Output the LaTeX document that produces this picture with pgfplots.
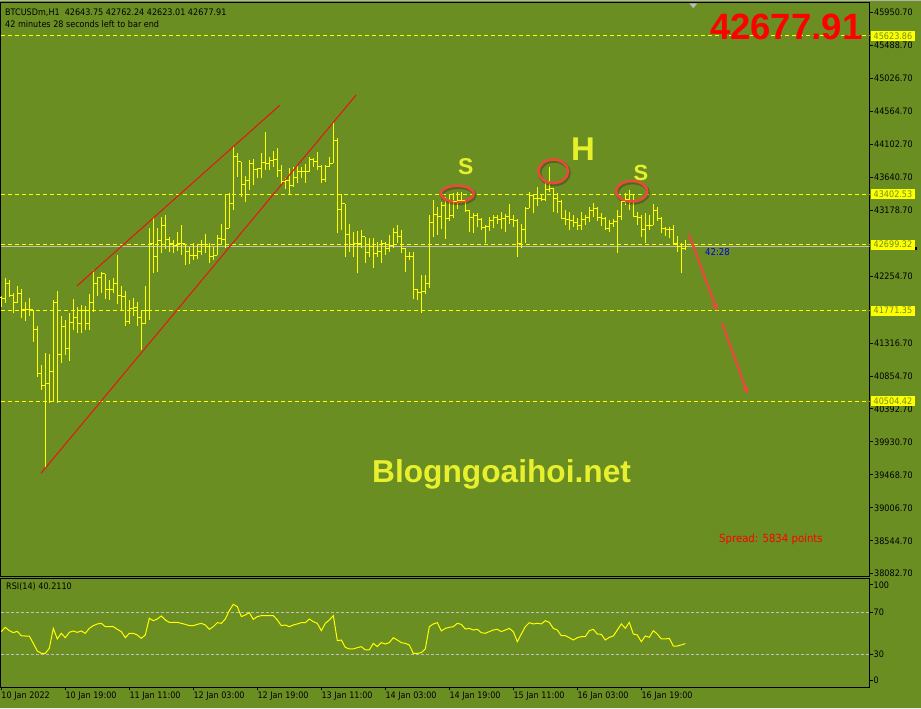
\documentclass[border=0pt]{standalone}
\usepackage{fontspec}
\setmainfont{DejaVu Sans}[FakeStretch=0.9]
\newfontfamily\arialfont{Liberation Sans}
\usepackage{pgfplots}
\usepackage{pgfplotstable}
\pgfplotsset{compat=1.18}
\usetikzlibrary{arrows.meta}

\definecolor{mtbg}{RGB}{107,142,35}
\definecolor{baryel}{RGB}{255,255,0}
\definecolor{silv}{RGB}{192,192,192}
\definecolor{trend}{RGB}{230,20,20}
\definecolor{circred}{RGB}{238,72,60}
\definecolor{wmark}{RGB}{232,240,45}

% open / close ticks of an OHLC bar
\pgfdeclareplotmark{otick}{\pgfpathmoveto{\pgfqpoint{-2bp}{0bp}}\pgfpathlineto{\pgfqpoint{0bp}{0bp}}\pgfusepathqstroke}
\pgfdeclareplotmark{ctick}{\pgfpathmoveto{\pgfqpoint{0bp}{0bp}}\pgfpathlineto{\pgfqpoint{2bp}{0bp}}\pgfusepathqstroke}

% BTCUSD H1 bars, 10 Jan 03:00 onwards; R = RSI(14)
\pgfplotstableread{
i O H L C R
0 41959 41977 41819 41945 51.6
1 41945 42225 41884 42155 55.7
2 42155 42202 41968 41991 52.5
3 41991 42015 41734 41889 50.6
4 41889 42118 41875 42015 51.9
5 42015 42076 41673 41781 47.7
6 41781 41898 41631 41781 47.4
7 41781 41945 41702 41781 47.4
8 41781 41781 41337 41510 40.4
9 41510 41557 40846 40893 33.1
10 40893 41010 40659 40729 30.9
11 40729 41173 39560 40753 30.9
12 40753 41164 40481 40916 35.7
13 40916 41921 40495 41884 54.7
14 41884 42048 40472 41150 44.6
15 41150 41697 41042 41547 50.0
16 41547 41641 41150 41243 45.8
17 41243 41734 41071 41603 50.9
18 41603 41931 41501 41678 52.2
19 41678 41828 41454 41594 50.9
20 41594 41851 41454 41772 52.2
21 41772 41837 41501 41585 50.0
22 41585 42006 41501 41889 54.7
23 41889 42342 41748 42155 57.3
24 42155 42249 41982 42239 58.9
25 42239 42319 42015 42286 59.5
26 42286 42286 41935 42071 56.3
27 42071 42202 41921 42062 56.3
28 42062 42225 42024 42146 56.3
29 42146 42552 41865 41991 53.8
30 41991 42118 41781 41977 51.6
31 41977 42048 41561 41617 45.8
32 41617 41921 41580 41795 50.0
33 41795 41945 41697 41819 50.0
34 41819 41889 41557 41678 48.4
35 41678 41781 41220 41585 45.2
36 41585 42118 41585 41772 48.4
37 41772 42936 41641 42707 64.3
38 42707 43090 42305 42538 62.0
39 42538 42926 42319 42753 63.6
40 42753 43081 42576 42973 66.5
41 42973 43114 42632 42772 62.7
42 42772 42810 42599 42707 60.4
43 42707 42763 42576 42679 60.4
44 42679 42870 42609 42707 60.4
45 42707 42973 42552 42707 59.5
46 42707 42707 42412 42599 58.5
47 42599 42669 42421 42552 57.3
48 42552 42716 42482 42552 57.3
49 42552 42702 42496 42599 58.5
50 42599 42763 42552 42693 59.5
51 42693 42842 42576 42669 57.9
52 42669 42716 42436 42529 53.8
53 42529 42669 42482 42552 56.3
54 42552 42833 42552 42786 60.1
55 42786 42982 42702 42772 59.5
56 42772 43403 42655 42926 63.6
57 42926 43417 42926 43277 71.6
58 43277 44072 43184 43932 77.6
59 43932 43978 43651 43861 75.4
60 43861 43861 43371 43544 65.9
61 43544 43660 43301 43604 67.4
62 43604 43885 43464 43838 69.7
63 43838 43894 43534 43745 63.3
64 43745 43768 43628 43759 65.9
65 43759 43978 43628 43847 66.8
66 43847 44273 43745 43838 66.8
67 43838 43932 43745 43875 66.8
68 43875 44016 43791 43885 66.8
69 43885 44048 43651 43731 62.7
70 43731 43815 43534 43581 57.3
71 43581 43637 43473 43604 57.9
72 43604 43768 43403 43520 56.3
73 43520 43782 43511 43637 57.9
74 43637 43815 43558 43721 58.9
75 43721 43791 43628 43721 60.1
76 43721 43829 43567 43721 60.1
77 43721 43922 43721 43894 63.6
78 43894 43908 43791 43861 61.1
79 43861 44002 43745 43791 59.5
80 43791 43815 43558 43614 52.5
81 43614 43815 43581 43791 59.5
82 43791 43932 43791 43838 62.7
83 43838 44422 43838 44165 66.8
84 44165 44189 42856 43193 43.0
85 43193 43403 42903 43268 43.6
86 43268 43268 42529 42833 36.6
87 42833 42987 42599 42693 35.1
88 42693 42870 42520 42707 35.1
89 42707 42889 42295 42707 36.3
90 42707 42903 42646 42810 37.3
91 42810 42810 42436 42585 34.1
92 42585 42786 42529 42669 34.1
93 42669 42796 42365 42576 40.4
94 42576 42739 42529 42599 37.3
95 42599 42763 42436 42716 41.1
96 42716 42739 42552 42646 39.8
97 42646 42833 42599 42679 41.1
98 42679 42926 42646 42866 45.8
99 42866 42973 42725 42810 43.6
100 42810 42903 42576 42637 41.1
101 42637 42655 42319 42529 40.4
102 42529 42599 42482 42538 38.9
103 42538 42599 41931 42062 30.9
104 42062 42076 41921 42024 30.9
105 42024 42270 41744 42038 31.6
106 42038 42270 42008 42155 35.1
107 42155 43114 42085 43006 56.3
108 43006 43330 42810 43114 58.9
109 43114 43220 42833 43090 60.1
110 43090 43300 42910 43240 52.2
111 43240 43371 42775 43067 54.7
112 43067 43403 43034 43113 55.7
113 43113 43417 43067 43300 56.3
114 43300 43441 43193 43314 59.5
115 43314 43441 43277 43310 58.5
116 43310 43324 43160 43183 54.1
117 43183 43183 42880 43081 54.7
118 43081 43146 42866 43113 53.1
119 43113 43137 42950 43053 53.8
120 43053 43067 42903 42936 50.6
121 42936 42973 42716 42950 50.0
122 42950 43081 42894 43034 51.6
123 43034 43113 42926 43081 53.1
124 43081 43113 42987 43053 53.8
125 43053 43160 42912 43067 51.6
126 43067 43127 42880 43090 53.1
127 43090 43268 42987 43053 54.7
128 43053 43113 42950 43043 51.6
129 43043 43053 42529 42716 42.0
130 42716 42982 42646 42912 49.3
131 42912 43230 42725 43207 56.3
132 43207 43441 43207 43380 60.1
133 43380 43394 43137 43347 58.9
134 43347 43511 43240 43347 59.5
135 43347 43394 43314 43324 58.9
136 43324 43557 43314 43464 62.0
137 43464 43782 43441 43487 60.4
138 43487 43487 43160 43347 54.7
139 43347 43417 43137 43300 53.1
140 43300 43324 43067 43067 47.7
141 43067 43183 42973 43053 47.7
142 43053 43160 42903 43043 45.8
143 43043 43113 42950 43006 43.6
144 43006 43067 42903 42973 45.8
145 42973 43160 42903 43053 46.8
146 43053 43113 42973 43081 46.8
147 43081 43221 43020 43183 52.5
148 43183 43286 43081 43207 53.8
149 43207 43230 43034 43081 49.3
150 43081 43137 42959 43067 49.0
151 43067 43081 42903 42926 43.6
152 42926 43043 42880 42996 46.2
153 42996 43053 42950 43020 47.4
154 43020 43183 42585 43090 53.1
155 43090 43314 43043 43300 58.9
156 43300 43417 43254 43324 54.7
157 43324 43464 43183 43394 60.4
158 43394 43394 43090 43099 49.3
159 43099 43160 42973 43081 48.4
160 43081 43113 42800 42903 42.0
161 42903 43137 42725 42973 47.4
162 42973 43113 42903 42973 46.2
163 42973 43268 42973 43183 52.5
164 43183 43230 43034 43067 49.3
165 43067 43081 42856 42926 44.6
166 42926 42950 42819 42903 44.6
167 42903 42940 42786 42903 45.2
168 42903 42973 42693 42716 37.9
169 42716 42819 42599 42669 37.9
170 42669 42716 42295 42644 38.9
171 42643.75 42762.24 42623.01 42677.91 40.21
}\bars

\begin{document}
\begin{tikzpicture}[x=1bp,y=1bp]
\useasboundingbox (0,0) rectangle (921,709);
\fill[mtbg] (0,0) rectangle (921,709);
\fill[gray!60] (0,707.5) rectangle (921,709);
\fill[gray!15] (0,0) rectangle (921,1.2);

% ---------------- price panel ----------------
\begin{axis}[
  name=main, at={(0.5bp,132.5bp)}, anchor=south west,
  width=869bp, height=574bp, scale only axis,
  xmin=-0.2, xmax=217.05, ymin=38043.4, ymax=46093.7,
  axis line style={black, line width=1bp},
  xtick=\empty, scaled y ticks=false,
  ytick={45950.70,45488.70,45026.70,44564.70,44102.70,43640.70,43178.70,42254.70,41316.70,40854.70,40392.70,39930.70,39468.70,39006.70,38544.70,38082.70},
  yticklabels={45950.70,45488.70,45026.70,44564.70,44102.70,43640.70,43178.70,42254.70,41316.70,40854.70,40392.70,39930.70,39468.70,39006.70,38544.70,38082.70},
  ytick pos=right, yticklabel pos=right,
  tick align=outside, major tick length=3bp,
  tick style={black, line width=1bp},
  yticklabel style={font=\fontsize{9}{10}\selectfont, anchor=west, inner sep=0pt, xshift=1.5bp},
]
% bid line and levels
\addplot[silv, line width=1bp] coordinates {(-0.2,42677.91) (217.05,42677.91)};
\addplot[baryel, line width=1bp, dash pattern=on 4bp off 3bp] coordinates {(-0.2,45623.86) (217.05,45623.86)};
\addplot[baryel, line width=1bp, dash pattern=on 4bp off 3bp] coordinates {(-0.2,43402.53) (217.05,43402.53)};
\addplot[baryel, line width=1bp, dash pattern=on 4bp off 3bp] coordinates {(-0.2,42699.32) (217.05,42699.32)};
\addplot[baryel, line width=1bp, dash pattern=on 4bp off 3bp] coordinates {(-0.2,41771.35) (217.05,41771.35)};
\addplot[baryel, line width=1bp, dash pattern=on 4bp off 3bp] coordinates {(-0.2,40504.42) (217.05,40504.42)};

% OHLC bars: high-low as error bars, open/close as ticks
\addplot[draw=none, mark=none,
  error bars/.cd, y dir=plus, y explicit, error mark=none,
  error bar style={draw=baryel, solid, line width=1bp}]
  table[x=i, y=L, y error plus expr=\thisrow{H}-\thisrow{L}] {\bars};
\addplot[only marks, mark=otick, baryel, line width=1bp] table[x=i, y=O] {\bars};
\addplot[only marks, mark=ctick, baryel, line width=1bp] table[x=i, y=C] {\bars};

% channel lines
\addplot[trend, line width=1bp] coordinates {(18.9,42117.6) (69.7,44656.2)};
\addplot[trend, line width=1bp] coordinates {(9.93,39490.8) (88.7,44796.4)};

% projection arrows
\draw[circred, line width=2.2bp, -{Stealth[length=8bp,width=6.5bp]}] (axis cs:171.9,42847) -- (axis cs:179.0,41765);
\draw[circred, line width=2.2bp, -{Stealth[length=8bp,width=6.5bp]}] (axis cs:180.2,41599) -- (axis cs:186.6,40600);

% shoulders and head (with a soft shadow)
\draw[black, opacity=0.25, line width=3.5bp] ([xshift=1bp,yshift=-1.5bp]axis cs:113.98,43410.7) ellipse [x radius=16.6bp, y radius=8bp];
\draw[black, opacity=0.25, line width=3.5bp] ([xshift=1bp,yshift=-1.5bp]axis cs:138.0,43726.3) ellipse [x radius=14.8bp, y radius=11.8bp];
\draw[black, opacity=0.25, line width=3.5bp] ([xshift=1bp,yshift=-1.5bp]axis cs:157.6,43445.8) ellipse [x radius=15.6bp, y radius=10.2bp];
\draw[circred, line width=2.5bp] (axis cs:113.98,43410.7) ellipse [x radius=16.6bp, y radius=8bp];
\draw[circred, line width=2.5bp] (axis cs:138.0,43726.3) ellipse [x radius=14.8bp, y radius=11.8bp];
\draw[circred, line width=2.5bp] (axis cs:157.6,43445.8) ellipse [x radius=15.6bp, y radius=10.2bp];

\coordinate (l1) at (axis cs:217.05,45623.86);
\coordinate (l2) at (axis cs:217.05,43402.53);
\coordinate (l3) at (axis cs:217.05,42699.32);
\coordinate (l4) at (axis cs:217.05,41771.35);
\coordinate (l5) at (axis cs:217.05,40504.42);
\end{axis}

% ---------------- RSI panel ----------------
\begin{axis}[
  name=rsi, at={(0.5bp,21.5bp)}, anchor=south west,
  width=869bp, height=109bp, scale only axis,
  xmin=-0.2, xmax=217.05, ymin=-1.62, ymax=102.19,
  axis line style={black, line width=1bp},
  xtick={0,16,32,48,64,80,96,112,128,144,160},
  xticklabels={10 Jan 2022,10 Jan 19:00,11 Jan 11:00,12 Jan 03:00,12 Jan 19:00,13 Jan 11:00,14 Jan 03:00,14 Jan 19:00,15 Jan 11:00,16 Jan 03:00,16 Jan 19:00},
  ytick={5.5,30,70,96}, yticklabels={0,30,70,100},
  xtick pos=left, xticklabel pos=left,
  ytick pos=right, yticklabel pos=right,
  tick align=outside, major tick length=3bp,
  tick style={black, line width=1bp},
  xticklabel style={font=\fontsize{9}{10}\selectfont, anchor=north west, inner sep=0pt, yshift=-1bp},
  yticklabel style={font=\fontsize{9}{10}\selectfont, anchor=west, inner sep=0pt, xshift=1bp},
]
\addplot[silv, line width=1bp, dash pattern=on 3bp off 2bp] coordinates {(-0.2,70) (217.05,70)};
\addplot[silv, line width=1bp, dash pattern=on 3bp off 2bp] coordinates {(-0.2,30) (217.05,30)};
\addplot[baryel, line width=1bp] table[x=i, y=R] {\bars};
\end{axis}

% ---------------- labels and annotations ----------------
\tikzset{lvlbox/.style={fill=baryel, text=mtbg, font=\fontsize{9}{10}\selectfont,
  inner xsep=2.5bp, inner ysep=0bp, minimum height=10bp, anchor=west}}
\fill[black] (871,459) rectangle (917,461.5);
\node[lvlbox] at ([xshift=1.5bp]l1) {45623.86};
\node[lvlbox] at ([xshift=1.5bp]l2) {43402.53};
\node[lvlbox] at ([xshift=1.5bp]l3) {42699.32};
\node[lvlbox] at ([xshift=1.5bp]l4) {41771.35};
\node[lvlbox] at ([xshift=1.5bp]l5) {40504.42};

\node[anchor=west, inner sep=0pt, font=\fontsize{9}{10}\selectfont] at (5,696.7)
  {BTCUSDm,H1\ \ 42643.75 42762.24 42623.01 42677.91};
\node[anchor=west, inner sep=0pt, font=\fontsize{9}{10}\selectfont] at (5,685)
  {42 minutes 28 seconds left to bar end};
\node[anchor=west, inner sep=0pt, font=\fontsize{9}{10}\selectfont] at (6,122.3)
  {RSI(14) 40.2110};

\node[anchor=base east, inner sep=0pt, text=red, font=\arialfont\bfseries\fontsize{36.7}{40}\selectfont]
  at (862.7,669.7) {42677.91};

\node[text=wmark, font=\arialfont\bfseries\fontsize{23}{26}\selectfont] at (465.7,542.3) {S};
\node[text=wmark, font=\arialfont\bfseries\fontsize{33}{36}\selectfont] at (583,560.3) {H};
\node[text=wmark, font=\arialfont\bfseries\fontsize{22}{25}\selectfont] at (641,536.3) {S};

\node[anchor=base west, inner sep=0pt, text=wmark, font=\arialfont\bfseries\fontsize{31.8}{34}\selectfont]
  at (372,226) {Blogngoaihoi.net};

\node[anchor=west, inner sep=0pt, text=red, font=\fontsize{11.3}{12}\selectfont] at (719,170)
  {Spread: 5834 points};
\node[anchor=west, inner sep=0pt, text={rgb,255:red,0;green,0;blue,230}, font=\fontsize{9.5}{10}\selectfont] at (705,457)
  {42:28};

\fill[gray!55] (689.3,705.7) -- (697.3,705.7) -- (693.3,700.7) -- cycle;
\end{tikzpicture}
\end{document}
